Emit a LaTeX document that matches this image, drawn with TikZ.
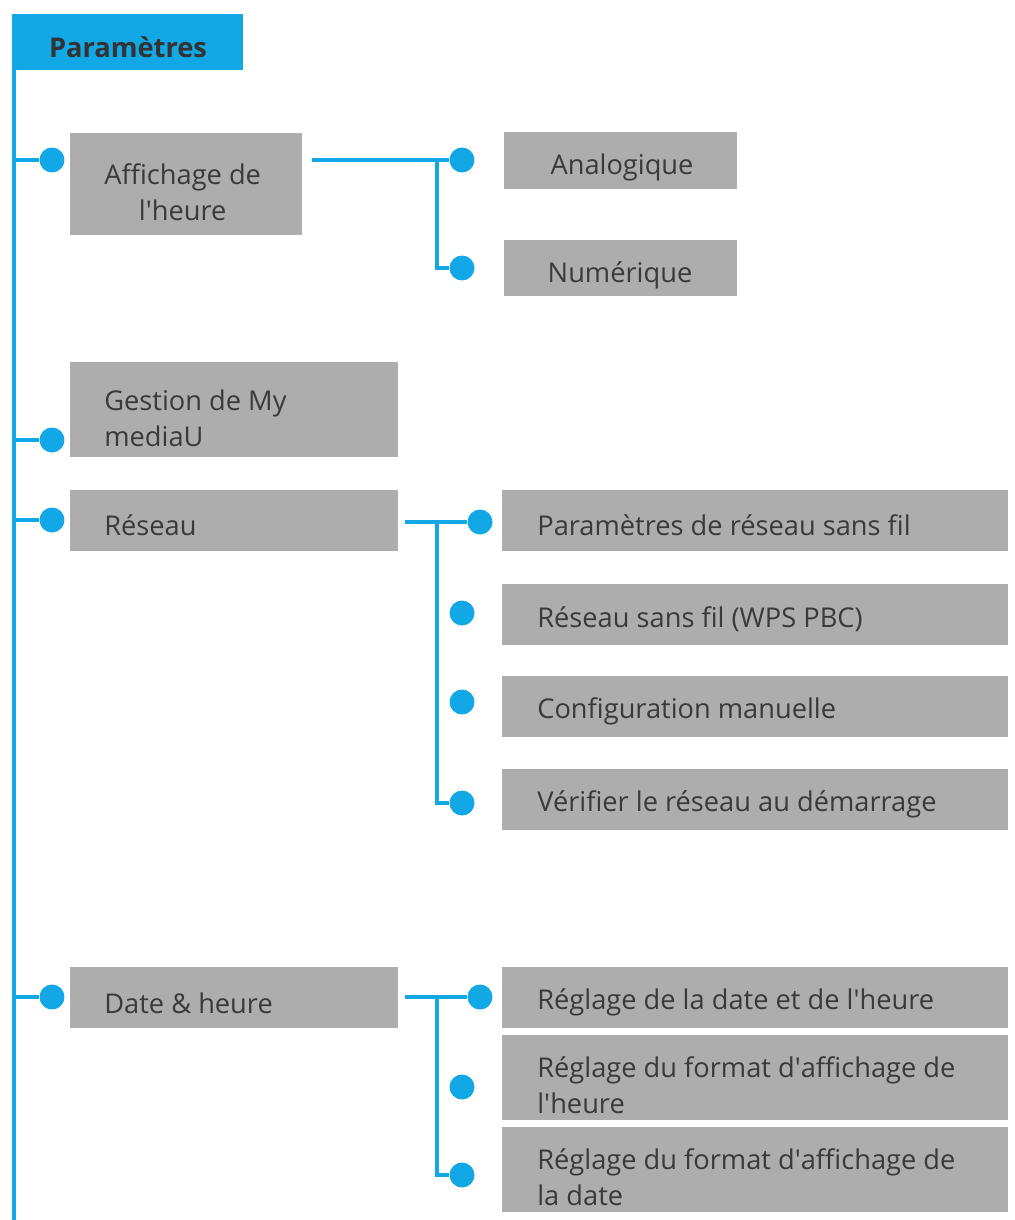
\documentclass[tikz,border=0pt]{standalone}
\usepackage{fontspec}
\setmainfont{Open Sans}
\usetikzlibrary{positioning}
\definecolor{bleu}{HTML}{12A8E6}
\definecolor{gris}{HTML}{ADADAD}
\definecolor{texte}{HTML}{3A3A3A}
\newcommand{\ap}{\textquotesingle}
\begin{document}
\begin{tikzpicture}[x=0.02cm,y=-0.02cm,
  box/.style={fill=gris,draw=none,anchor=north west,inner sep=0pt},
  txt/.style={anchor=west,align=left,text=texte,font=\fontsize{15.5}{20.5}\selectfont,inner sep=0pt},
  dot/.style={circle,fill=bleu,minimum size=0.5cm,inner sep=0pt},
  wire/.style={bleu,line width=2.6pt}]
  \useasboundingbox (0,0) rectangle (1014,1220);
  %title and main trunk
  \node[fill=bleu,anchor=north west,minimum width=4.58cm,minimum height=1.12cm,inner sep=0pt] (titre) at (14,14){};
  \node[txt,font=\fontsize{15.5}{18}\selectfont\bfseries,text=black!80,anchor=center] (tt) at (128,47){Paramètres};
  \coordinate (top) at (14,14);\coordinate (bas) at (14,1220);
  \draw[wire] (top) -- (bas);
  %%left boxes
  \node[box,minimum width=4.64cm,minimum height=2.04cm] (aff) at (70,133){};
  \node[box,minimum width=6.56cm,minimum height=1.9cm] (ges) at (70,362){};
  \node[box,minimum width=6.56cm,minimum height=1.22cm] (res) at (70,490){};
  \node[box,minimum width=6.56cm,minimum height=1.22cm] (dat) at (70,967){};
  \node[txt,align=center] (taff) at (104,192){Affichage de\\l\ap heure};
  \node[txt] (tges) at (104,418){Gestion de My\\mediaU};
  \node[txt] (tres) at (104,525){Réseau};
  \node[txt] (tdat) at (104,1003){Date \& heure};
  %% dots on the trunk
  \foreach \n/\y in {d1/160,d2/440,d3/520,d4/997}{
    \node[dot] (\n) at (52,\y){};
    \draw[wire] (14,\y) -- (\n);
  }
  %% right boxes
  \node[box,minimum width=4.66cm,minimum height=1.14cm] (ana) at (504,132){};
  \node[box,minimum width=4.66cm,minimum height=1.12cm] (num) at (504,240){};
  \node[txt,anchor=center] (tana) at (622,167){Analogique};
  \node[txt,anchor=center] (tnum) at (620,275){Numérique};
  \foreach \n/\y/\t in {r1/490/Paramètres de réseau sans fil,r2/584/Réseau sans fil (WPS PBC),
      r3/676/Configuration manuelle,r4/769/Vérifier le réseau au démarrage,
      s1/967/Réglage de la date et de l\ap heure}{
    \node[box,minimum width=10.12cm,minimum height=1.22cm] (\n) at (502,\y){};
    \node[txt] at (537,\y+35){\t};
  }
  \node[box,minimum width=10.12cm,minimum height=1.7cm] (s2) at (502,1035){};
  \node[box,minimum width=10.12cm,minimum height=1.7cm] (s3) at (502,1127){};
  \node[txt] at (537,1085){Réglage du format d\ap affichage de\\l\ap heure};
  \node[txt] at (537,1177){Réglage du format d\ap affichage de\\la date};
  %% branches
  \node[dot] (e1) at (462,160){};\node[dot] (e2) at (462,268){};
  \draw[wire] (312,160) -- (e1);
  \draw[wire] (437,160) |- (e2);
  \node[dot] (f1) at (480,522){};
  \foreach \n/\y in {f2/613,f3/702,f4/803}{\node[dot] (\n) at (462,\y){};}
  \draw[wire] (405,522) -- (f1);
  \draw[wire] (437,522) |- (f4);
  \node[dot] (g1) at (480,997){};
  \foreach \n/\y in {g2/1087,g3/1175}{\node[dot] (\n) at (462,\y){};}
  \draw[wire] (405,997) -- (g1);
  \draw[wire] (437,997) |- (g3);
\end{tikzpicture}
\end{document}
